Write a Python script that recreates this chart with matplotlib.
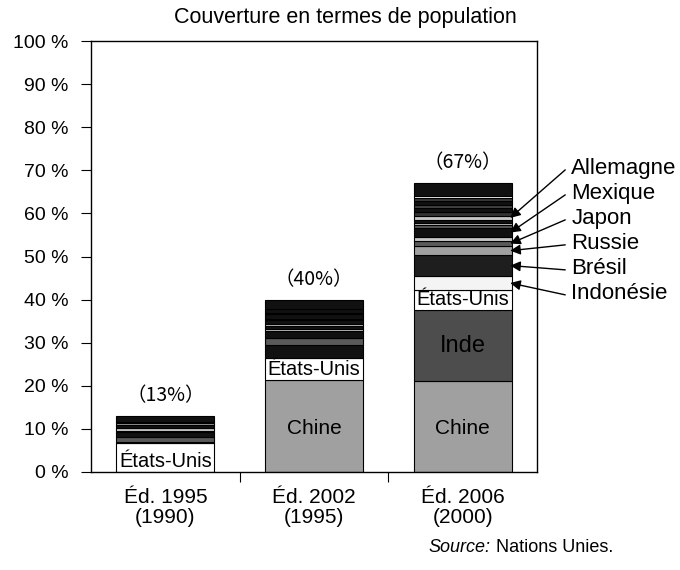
import numpy as np
import matplotlib
matplotlib.use("Agg")
import matplotlib.pyplot as plt

plt.rcParams['font.family'] = ['Liberation Sans', 'DejaVu Sans']

# data (% of world population)
categories = ["Éd. 1995\n(1990)", "Éd. 2002\n(1995)", "Éd. 2006\n(2000)"]
totals = [13, 40, 67]

seg_1995 = [6.7, 0.2, 1.2, 1.2, 0.2, 0.7, 0.8, 0.3, 0.3, 1.4]
seg_2002 = [21.3, 5.1, 3.1, 1.6, 1.5, 0.6, 0.6, 0.6, 0.8, 0.3, 1.1, 0.3, 0.9, 2.2]
seg_2006 = [21.0, 16.7, 4.5, 3.3, 4.8, 2.1, 1.2, 0.9, 2.1, 0.7, 0.5, 0.7, 0.9,
            1.0, 0.8, 0.8, 0.8, 0.8, 0.4, 3.0]

# segment names (only the labelled ones)
names_1995 = {0: "États-Unis"}
names_2002 = {0: "Chine", 1: "États-Unis"}
names_2006 = {0: "Chine", 1: "Inde", 2: "États-Unis"}
arrow_names = ["Allemagne", "Mexique", "Japon", "Russie", "Brésil", "Indonésie"]
arrow_seg = [12, 8, 6, 5, 4, 3]   # index in seg_2006

W, K, D, G, L = "#ffffff", "#111111", "#5a5a5a", "#a0a0a0", "#c8c8c8"
col_1995 = [W, G, D, K, W, L, K, G, W, K]
col_2002 = [G, W, K, D, K, L, K, L, K, G, K, G, K, K]
col_2006 = [G, "#4d4d4d", W, "#f4f4f4", "#1e1e1e", G, D, L, K, D, L, K, L,
            "#333333", K, "#444444", K, "#3a3a3a", W, K]

fig = plt.figure(figsize=(6.8, 5.7), dpi=100)
ax = fig.add_axes([91/680, 98/570, 446/680, 431/570])

bw = 0.66
for i, (segs, cols, names) in enumerate([(seg_1995, col_1995, names_1995),
                                         (seg_2002, col_2002, names_2002),
                                         (seg_2006, col_2006, names_2006)]):
    bottom = 0
    for j, (h, c) in enumerate(zip(segs, cols)):
        ax.bar(i, h, bottom=bottom, width=bw, color=c, edgecolor='black', linewidth=0.8)
        if j in names:
            n = names[j]
            if n == "États-Unis":
                ax.text(i, bottom + 0.2, n, ha='center', va='bottom', fontsize=14.5)
            elif n == "Inde":
                ax.text(i, bottom + h/2, n, ha='center', va='center', fontsize=17)
            else:
                ax.text(i, bottom + h/2 - 0.5, n, ha='center', va='center', fontsize=15)
        bottom += h
    ax.text(i, totals[i] + 2.3, "（%d%%）" % totals[i], ha='center', va='bottom',
            fontsize=14, family=['Noto Sans CJK JP', 'DejaVu Sans'])

# arrows to the small countries of the last bar
cum = np.cumsum([0] + seg_2006)
for k, (n, s) in enumerate(zip(arrow_names, arrow_seg)):
    ymid = (cum[s] + cum[s + 1]) / 2
    ty = 70.5 - 5.8 * k
    ax.annotate("", xy=(2 + bw/2 - 0.01, ymid), xytext=(2.69, ty - 0.4),
                arrowprops=dict(arrowstyle='-|>', color='black', lw=1, mutation_scale=15,
                                shrinkA=0, shrinkB=0), annotation_clip=False)
    ax.text(2.73, ty, n, ha='left', va='center', fontsize=16, clip_on=False)

ax.set_xlim(-0.5, 2.5)
ax.set_ylim(0, 100)
ax.set_yticks(np.arange(0, 101, 10))
ax.set_yticklabels(["%d %%" % v for v in range(0, 101, 10)], fontsize=14)
ax.set_xticks([0.5, 1.5])
ax.set_xticklabels([])
ax.tick_params(axis='x', length=7, direction='out')
ax.tick_params(axis='y', length=7, direction='out', pad=9)
for i, c in enumerate(categories):
    ax.text(i, -3.8, c, ha='center', va='top', fontsize=15, linespacing=1.05)
for sp in ax.spines.values():
    sp.set_linewidth(1)

fig.text(345/680, 1 - 18/570, "Couverture en termes de population", ha='center', va='center',
         fontsize=15.5)
t1 = fig.text(428/680, 1 - 548/570, "Source:", ha='left', va='center', fontsize=13, style='italic')
ax.annotate("Nations Unies.", xy=(1, 0.5), xycoords=t1, xytext=(4, 0), textcoords='offset points',
            ha='left', va='center', fontsize=13, annotation_clip=False)

fig.savefig("out.png", dpi=100)
